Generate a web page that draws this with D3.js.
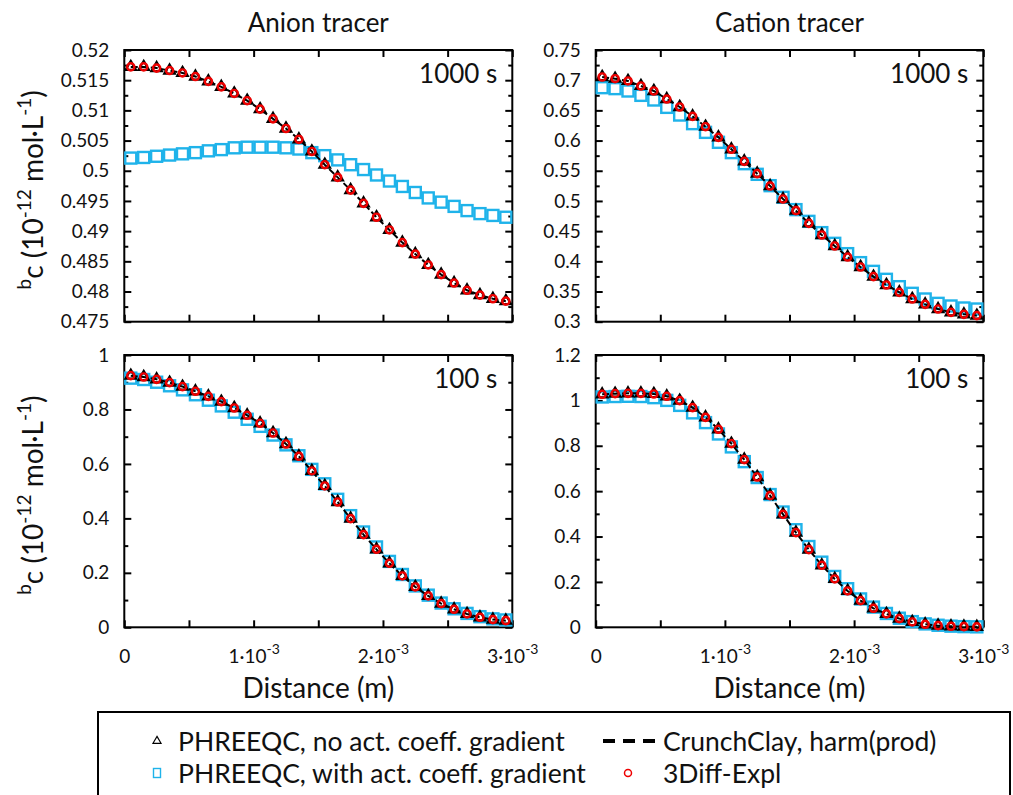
<!DOCTYPE html>
<html><head><meta charset="utf-8">
<script src="https://cdn.jsdelivr.net/npm/d3@7"></script>
<style>body{margin:0;background:#fff}svg{display:block}text{font-family:Lato,"DejaVu Sans",sans-serif;fill:#111}</style>
</head><body>
<svg id="c" width="1013" height="795"></svg>
<script>
// ---------- data ----------
const distance = [0.00005,0.00015,0.00025,0.00035,0.00045,0.00055,0.00065,0.00075,0.00085,0.00095,
  0.00105,0.00115,0.00125,0.00135,0.00145,0.00155,0.00165,0.00175,0.00185,0.00195,
  0.00205,0.00215,0.00225,0.00235,0.00245,0.00255,0.00265,0.00275,0.00285,0.00295];

const anion1000NoAct = [0.5172,0.5172,0.5170,0.5166,0.5162,0.5156,0.5148,0.5139,0.5128,0.5116,0.5102,0.5086,0.5070,0.5052,0.5032,0.5010,0.4989,0.4968,0.4946,0.4923,0.4902,0.4881,0.4862,0.4844,0.4828,0.4814,0.4802,0.4794,0.4788,0.4784];
const anion1000Act   = [0.5021,0.5022,0.5024,0.5026,0.5028,0.5030,0.5033,0.5035,0.5038,0.5039,0.5039,0.5039,0.5038,0.5036,0.5030,0.5025,0.5018,0.5010,0.5002,0.4993,0.4983,0.4974,0.4964,0.4955,0.4948,0.4941,0.4934,0.4929,0.4926,0.4923];
const anion1000Crunch= [0.5172,0.5172,0.5170,0.5166,0.5162,0.5156,0.5148,0.5139,0.5128,0.5116,0.5102,0.5086,0.5070,0.5052,0.5032,0.5010,0.4989,0.4968,0.4946,0.4923,0.4902,0.4881,0.4862,0.4844,0.4828,0.4814,0.4802,0.4794,0.4788,0.4784];
const anion1000Diff  = [0.5172,0.5172,0.5170,0.5166,0.5162,0.5156,0.5148,0.5139,0.5128,0.5116,0.5102,0.5086,0.5070,0.5052,0.5032,0.5010,0.4989,0.4968,0.4946,0.4923,0.4902,0.4881,0.4862,0.4844,0.4828,0.4814,0.4802,0.4794,0.4788,0.4784];

const cation1000NoAct = [0.7053,0.7025,0.6987,0.6904,0.6821,0.6688,0.6556,0.6401,0.6230,0.6053,0.5855,0.5656,0.5452,0.5247,0.5032,0.4839,0.4629,0.4436,0.4254,0.4071,0.3906,0.3746,0.3608,0.3486,0.3376,0.3287,0.3210,0.3155,0.3122,0.3100];
const cation1000Act   = [0.6876,0.6860,0.6821,0.6749,0.6672,0.6550,0.6423,0.6280,0.6136,0.5971,0.5800,0.5617,0.5441,0.5253,0.5060,0.4856,0.4662,0.4475,0.4298,0.4127,0.3978,0.3834,0.3702,0.3580,0.3470,0.3376,0.3304,0.3260,0.3227,0.3210];
const cation1000Crunch= [0.7053,0.7025,0.6987,0.6904,0.6821,0.6688,0.6556,0.6401,0.6230,0.6053,0.5855,0.5656,0.5452,0.5247,0.5032,0.4839,0.4629,0.4436,0.4254,0.4071,0.3906,0.3746,0.3608,0.3486,0.3376,0.3287,0.3210,0.3155,0.3122,0.3100];
const cation1000Diff  = [0.7053,0.7025,0.6987,0.6904,0.6821,0.6688,0.6556,0.6401,0.6230,0.6053,0.5855,0.5656,0.5452,0.5247,0.5032,0.4839,0.4629,0.4436,0.4254,0.4071,0.3906,0.3746,0.3608,0.3486,0.3376,0.3287,0.3210,0.3155,0.3122,0.3100];

const anion100NoAct = [0.9241,0.9192,0.9106,0.8984,0.8837,0.8666,0.8482,0.8286,0.8054,0.7785,0.7491,0.7136,0.6732,0.6279,0.5741,0.5190,0.4602,0.3990,0.3403,0.2864,0.2350,0.1885,0.1481,0.1151,0.0869,0.0661,0.0490,0.0367,0.0282,0.0245];
const anion100Act   = [0.915,0.910,0.900,0.887,0.872,0.854,0.834,0.813,0.790,0.764,0.738,0.706,0.670,0.630,0.580,0.527,0.470,0.410,0.350,0.295,0.242,0.194,0.152,0.118,0.089,0.068,0.051,0.039,0.031,0.027];
const anion100Crunch= [0.9241,0.9192,0.9106,0.8984,0.8837,0.8666,0.8482,0.8286,0.8054,0.7785,0.7491,0.7136,0.6732,0.6279,0.5741,0.5190,0.4602,0.3990,0.3403,0.2864,0.2350,0.1885,0.1481,0.1151,0.0869,0.0661,0.0490,0.0367,0.0282,0.0245];
const anion100Diff  = [0.9241,0.9192,0.9106,0.8984,0.8837,0.8666,0.8482,0.8286,0.8054,0.7785,0.7491,0.7136,0.6732,0.6279,0.5741,0.5190,0.4602,0.3990,0.3403,0.2864,0.2350,0.1885,0.1481,0.1151,0.0869,0.0661,0.0490,0.0367,0.0282,0.0245];

const cation100NoAct = [1.0267,1.0296,1.0311,1.0311,1.0282,1.0179,0.9988,0.9679,0.9253,0.8725,0.8093,0.7388,0.6624,0.5802,0.4979,0.4171,0.3422,0.2732,0.2130,0.1601,0.1175,0.0837,0.0588,0.0382,0.0235,0.0132,0.0073,0.0044,0.0029,0.0020];
const cation100Act   = [1.015,1.017,1.018,1.017,1.012,1.000,0.978,0.945,0.902,0.852,0.795,0.730,0.660,0.585,0.508,0.430,0.356,0.287,0.224,0.170,0.125,0.089,0.061,0.040,0.025,0.015,0.009,0.005,0.003,0.002];
const cation100Crunch= [1.0267,1.0296,1.0311,1.0311,1.0282,1.0179,0.9988,0.9679,0.9253,0.8725,0.8093,0.7388,0.6624,0.5802,0.4979,0.4171,0.3422,0.2732,0.2130,0.1601,0.1175,0.0837,0.0588,0.0382,0.0235,0.0132,0.0073,0.0044,0.0029,0.0020];
const cation100Diff  = [1.0267,1.0296,1.0311,1.0311,1.0282,1.0179,0.9988,0.9679,0.9253,0.8725,0.8093,0.7388,0.6624,0.5802,0.4979,0.4171,0.3422,0.2732,0.2130,0.1601,0.1175,0.0837,0.0588,0.0382,0.0235,0.0132,0.0073,0.0044,0.0029,0.0020];

const xMajorTicks = [0,0.0005,0.001,0.0015,0.002,0.0025,0.003];
const xLabelTicks = [0,0.001,0.002,0.003];
const xTickLabels = ["0","1·10","2·10","3·10"];
const yTicksAnion1000  = [0.475,0.48,0.485,0.49,0.495,0.5,0.505,0.51,0.515,0.52];
const yTicksCation1000 = [0.3,0.35,0.4,0.45,0.5,0.55,0.6,0.65,0.7,0.75];
const yTicksAnion100   = [0,0.2,0.4,0.6,0.8,1];
const yTicksCation100  = [0,0.2,0.4,0.6,0.8,1,1.2];
const columnTitles = ["Anion tracer","Cation tracer"];
const timeLabels = ["1000 s","100 s"];
const seriesNames = ["PHREEQC, no act. coeff. gradient","PHREEQC, with act. coeff. gradient","CrunchClay, harm(prod)","3Diff-Expl"];

// ---------- layout ----------
const svg = d3.select("#c");
const CYAN = "#1fb3ea", RED = "#ee0000";
const cols = [[124.3,512.3],[595.7,983.3]];
const rows = [[50,321.7],[355,627.3]];
const panels = [
  {r:0,c:0,ticks:yTicksAnion1000, step:0.0025, noAct:anion1000NoAct, act:anion1000Act, crunch:anion1000Crunch, diff:anion1000Diff, t:timeLabels[0]},
  {r:0,c:1,ticks:yTicksCation1000,step:0.025,  noAct:cation1000NoAct,act:cation1000Act,crunch:cation1000Crunch,diff:cation1000Diff,t:timeLabels[0]},
  {r:1,c:0,ticks:yTicksAnion100,  step:0.1,    noAct:anion100NoAct,  act:anion100Act,  crunch:anion100Crunch,  diff:anion100Diff,  t:timeLabels[1]},
  {r:1,c:1,ticks:yTicksCation100, step:0.1,    noAct:cation100NoAct, act:cation100Act, crunch:cation100Crunch, diff:cation100Diff, t:timeLabels[1]},
];

const tri = d3.symbol().type(d3.symbolTriangle).size(48);

panels.forEach(p => {
  const [x0,x1] = cols[p.c], [y0,y1] = rows[p.r];
  const x = d3.scaleLinear().domain([0,0.003]).range([x0,x1]);
  const y = d3.scaleLinear().domain([p.ticks[0], p.ticks[p.ticks.length-1]]).range([y1,y0]);
  const g = svg.append("g");
  const minor = p.ticks.slice(0,-1).map(v => v + p.step);

  const styleAxis = sel => { sel.select(".domain").remove(); sel.selectAll("line").attr("stroke","#000").attr("stroke-width",2); };
  g.append("g").attr("transform",`translate(${x0},0)`)
    .call(d3.axisLeft(y).tickValues(p.ticks).tickSize(-7).tickPadding(15).tickFormat(d=>String(d)))
    .call(styleAxis)
    .call(s=>s.selectAll("text").attr("font-size",19).attr("fill","#111").attr("font-family","Lato"));
  g.append("g").attr("transform",`translate(${x0},0)`)
    .call(d3.axisLeft(y).tickValues(minor).tickSize(-4).tickFormat(""))
    .call(styleAxis);
  g.append("g").attr("transform",`translate(${x1},0)`)
    .call(d3.axisRight(y).tickValues(p.ticks).tickSize(-7).tickFormat(""))
    .call(styleAxis);
  g.append("g").attr("transform",`translate(${x1},0)`)
    .call(d3.axisRight(y).tickValues(minor).tickSize(-4).tickFormat(""))
    .call(styleAxis);
  g.append("g").attr("transform",`translate(0,${y1})`)
    .call(d3.axisBottom(x).tickValues(xMajorTicks).tickSize(-7).tickFormat(""))
    .call(styleAxis);
  g.append("g").attr("transform",`translate(0,${y0})`)
    .call(d3.axisTop(x).tickValues(xMajorTicks).tickSize(-7).tickFormat(""))
    .call(styleAxis);
  if (p.r === 1) {
    const lab = g.append("g").attr("transform",`translate(0,${y1})`)
      .call(d3.axisBottom(x).tickValues(xLabelTicks).tickSize(0).tickFormat(""));
    lab.select(".domain").remove();
    lab.selectAll(".tick").each(function(d,i){
      const t = d3.select(this).append("text").attr("y",36).attr("text-anchor","middle")
        .attr("font-size",19).attr("fill","#111");
      t.append("tspan").text(xTickLabels[i]);
      if (d !== 0) t.append("tspan").attr("dy",-9).attr("font-size",14).text("-3");
    });
    g.append("text").attr("x",(x0+x1)/2).attr("y",698).attr("text-anchor","middle")
      .attr("font-size",28).text("Distance (m)");
  }
  if (p.r === 0) {
    g.append("text").attr("x",(x0+x1)/2).attr("y",32).attr("text-anchor","middle")
      .attr("font-size",26).text(columnTitles[p.c]);
  }
  if (p.c === 0) {
    const cy = (y0+y1)/2 + 4;
    const t = g.append("text").attr("transform",`translate(43,${cy}) rotate(-90)`)
      .attr("text-anchor","middle").attr("font-size",28);
    t.append("tspan").attr("font-size",19).attr("dy",-12).text("b");
    t.append("tspan").attr("dy",12).text("c (10");
    t.append("tspan").attr("font-size",19).attr("dy",-12).text("-12");
    t.append("tspan").attr("dy",12).text(" mol·L");
    t.append("tspan").attr("font-size",19).attr("dy",-12).text("-1");
    t.append("tspan").attr("dy",12).text(")");
  }
  g.append("text").attr("x",x1-15).attr("y",y0+33).attr("text-anchor","end")
    .attr("font-size",26).text(p.t);

  g.append("rect").attr("x",x0).attr("y",y0).attr("width",x1-x0).attr("height",y1-y0)
    .attr("fill","none").attr("stroke","#000").attr("stroke-width",2);

  g.selectAll(".sq").data(p.act).join("rect")
    .attr("x",(d,i)=>x(distance[i])-5.5).attr("y",d=>y(d)-5.5).attr("width",11).attr("height",11)
    .attr("fill","none").attr("stroke",CYAN).attr("stroke-width",2.4);
  g.append("path").datum(p.crunch)
    .attr("d", d3.line().x((d,i)=>x(distance[i])).y(d=>y(d)))
    .attr("fill","none").attr("stroke","#000").attr("stroke-width",2).attr("stroke-dasharray","7,3");
  g.selectAll(".tr").data(p.noAct).join("path")
    .attr("d",tri).attr("transform",(d,i)=>`translate(${x(distance[i])},${y(d)})`)
    .attr("fill","none").attr("stroke","#000").attr("stroke-width",2.2);
  g.selectAll(".ci").data(p.diff).join("circle")
    .attr("cx",(d,i)=>x(distance[i])).attr("cy",d=>y(d)).attr("r",3.6)
    .attr("fill","none").attr("stroke",RED).attr("stroke-width",2.4);
});

// ---------- legend ----------
const lg = svg.append("g");
lg.append("rect").attr("x",98).attr("y",712).attr("width",912).attr("height",100)
  .attr("fill","#fff").attr("stroke","#000").attr("stroke-width",2);
const rowY = [741, 773];
const fs = 26.5;
lg.append("path").attr("d",d3.symbol().type(d3.symbolTriangle).size(28)).attr("transform",`translate(157,${rowY[0]})`)
  .attr("fill","none").attr("stroke","#000").attr("stroke-width",1.2);
lg.append("rect").attr("x",153.5).attr("y",rowY[1]-4.5).attr("width",7).attr("height",9)
  .attr("fill","none").attr("stroke",CYAN).attr("stroke-width",1.4);
lg.append("line").attr("x1",603).attr("x2",655).attr("y1",rowY[0]).attr("y2",rowY[0])
  .attr("stroke","#000").attr("stroke-width",4).attr("stroke-dasharray","12,8");
lg.append("circle").attr("cx",628).attr("cy",rowY[1]).attr("r",3.5)
  .attr("fill","none").attr("stroke",RED).attr("stroke-width",1.5);
[[178,0],[178,1],[663,0],[663,1]].forEach(([lx,r],i)=>{
  lg.append("text").attr("x",lx).attr("y",rowY[r]+9.5).attr("font-size",fs).text(seriesNames[i]);
});
</script>
</body></html>
